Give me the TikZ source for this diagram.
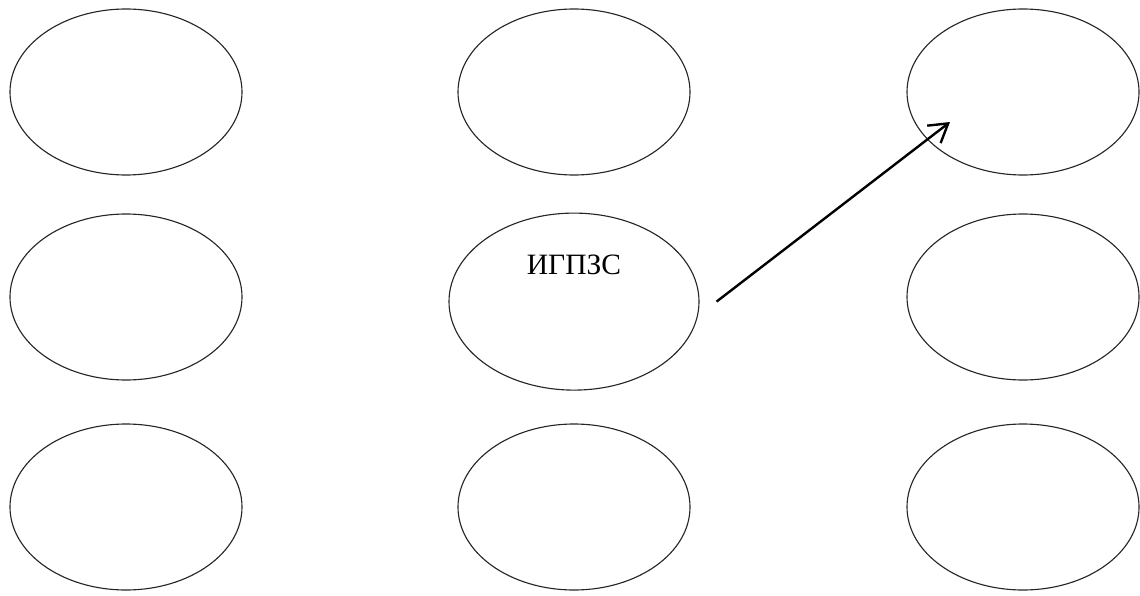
\documentclass[tikz,border=0pt]{standalone}
\usepackage{fontspec}
\setmainfont{Liberation Serif}
\usetikzlibrary{positioning,calc}
\usetikzlibrary{shapes.geometric}
\usetikzlibrary{arrows.meta}

\begin{document}
\begin{tikzpicture}[
         blob/.style = {ellipse,draw=black!85,line width=0.8pt,inner sep=0pt,
            minimum width=5.8cm,minimum height=4.15cm},
         bigblob/.style = {blob,minimum width=6.25cm,minimum height=4.425cm},
         link/.style = {line width=1.7pt,-{Straight Barb[length=4.5mm,width=5.5mm]}},
         on grid
]
   \useasboundingbox (0,0) rectangle (28.5,-14.9);

   % left column
   \node[blob] (a1) at (3.15,-2.3) {};
   \node[blob, below=5.125cm of a1] (a2) {};
   \node[blob, below=5.25cm of a2] (a3) {};

   % middle column
   \node[blob, right=11.2cm of a1] (b1) {};
   \node[bigblob, below=5.24cm of b1] (b2) {};
   \node[blob, right=11.2cm of a3] (b3) {};
   \node[above=0.91cm of b2] (b2txt) {\fontsize{21}{25}\selectfont ИГПЗС};

   % right column
   \node[blob, right=11.225cm of b1] (c1) {};
   \node[blob, right=22.425cm of a2] (c2) {};
   \node[blob, right=11.225cm of b3] (c3) {};

   \coordinate[right=0.425cm of b2.east] (t0);
   \coordinate[below left=0.75cm and 1.825cm of c1] (t1);
   \draw[link] (t0) -- (t1);
\end{tikzpicture}
\end{document}
